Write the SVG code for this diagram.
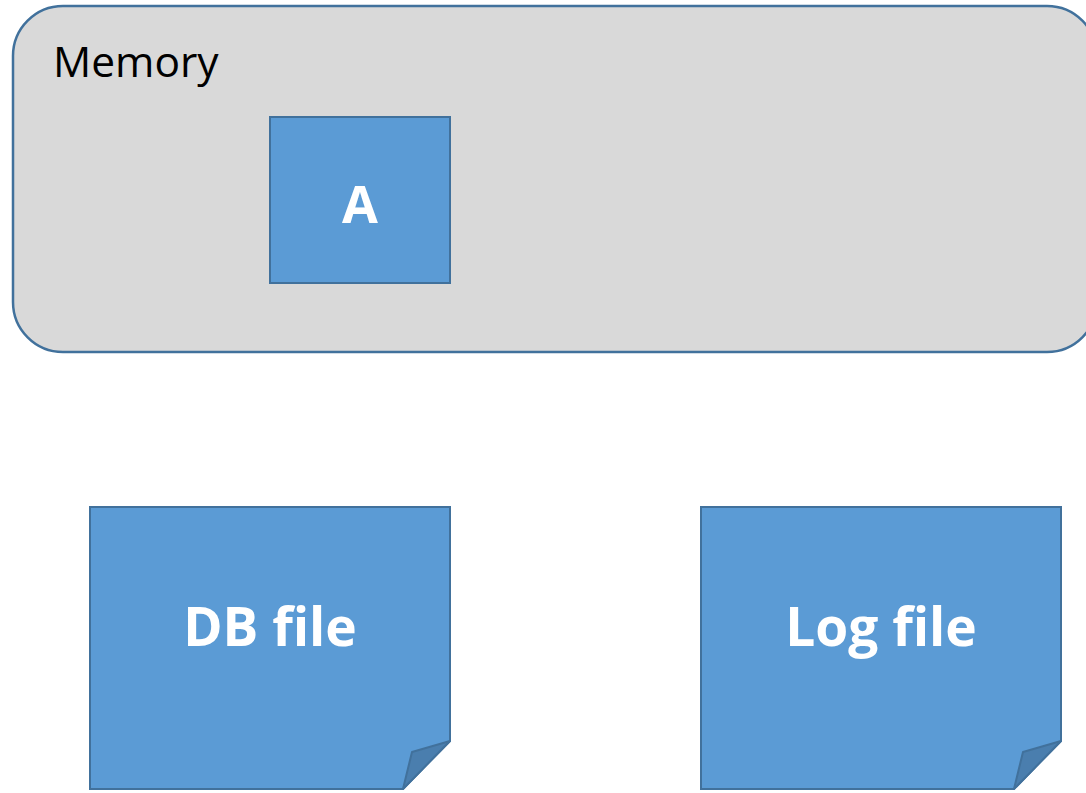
<svg xmlns="http://www.w3.org/2000/svg" width="1086" height="793" viewBox="0 0 1086 793">
<style>
.box{fill:#5B9BD5;stroke:#41719C;stroke-width:2}
.fold{fill:#4A7EAE;stroke:#41719C;stroke-width:2;stroke-linejoin:round}
.lbl{font-family:"Open Sans","Liberation Sans",sans-serif;font-weight:bold;fill:#fff;text-anchor:middle}
</style>
<rect width="1086" height="793" fill="#fff"/>
<g id="memory">
<rect x="13" y="6" width="1084" height="346" rx="50" ry="50" fill="#D9D9D9" stroke="#41719C" stroke-width="2.5"/>
<text x="53" y="77" font-family="'Open Sans','Liberation Sans',sans-serif" font-size="42.5" fill="#000">Memory</text>
</g>
<g id="nodeA">
<rect class="box" x="270" y="117" width="180" height="166"/>
<text class="lbl" x="360" y="223" font-size="52">A</text>
</g>
<g id="dbfile">
<path class="box" d="M90,507 H450 V741 L403,789 H90 Z"/>
<path class="fold" d="M450,741 L412,752 L403,789 Z"/>
<text class="lbl" x="270" y="646" font-size="53.3">DB file</text>
</g>
<g id="logfile">
<path class="box" d="M701,507 H1061 V741 L1014,789 H701 Z"/>
<path class="fold" d="M1061,741 L1023,752 L1014,789 Z"/>
<text class="lbl" x="881" y="646" font-size="53.3">Log file</text>
</g>
<g id="connectors"></g>
</svg>
